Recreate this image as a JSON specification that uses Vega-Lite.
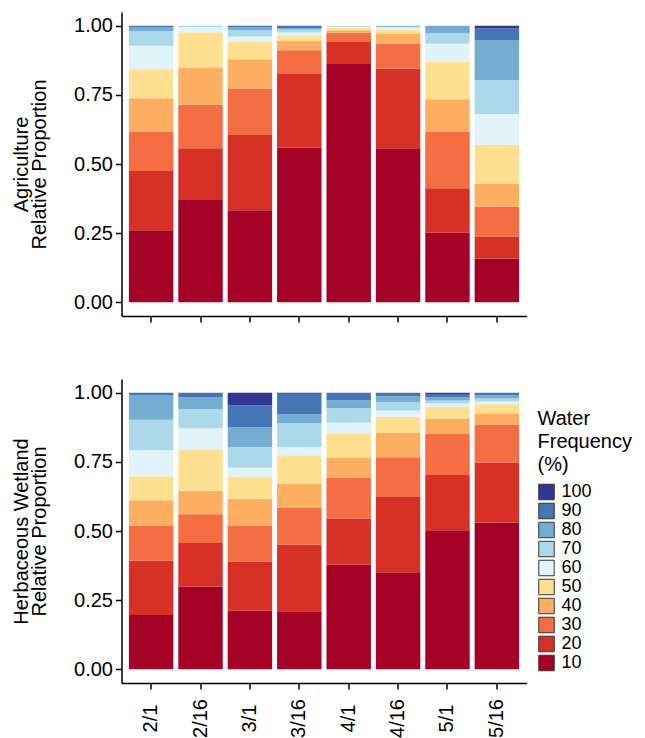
{
  "$schema": "https://vega.github.io/schema/vega-lite/v6.json",
  "autosize": {"type": "pad"},
  "padding": {"top": 12, "left": 11.5, "right": 0, "bottom": 0},
  "spacing": 56,
  "config": {
    "view": {"stroke": null},
    "font": "Liberation Sans",
    "axis": {
      "grid": false, "domainColor": "black", "domainWidth": 1.5,
      "tickColor": "black", "tickWidth": 1.5, "tickSize": 6,
      "labelColor": "black", "labelFontSize": 20, "labelFont": "Liberation Sans",
      "titleColor": "black", "titleFontSize": 20, "titleFontWeight": "normal", "titleFont": "Liberation Sans"
    },
    "legend": {
      "titleFontSize": 20, "titleFontWeight": "normal", "titleColor": "black", "titleLineHeight": 23, "titleFont": "Liberation Sans",
      "labelFontSize": 18, "labelColor": "black", "labelFont": "Liberation Sans",
      "symbolType": "square", "symbolSize": 240, "symbolStrokeColor": "#333333", "symbolStrokeWidth": 1,
      "labelOffset": 6, "titlePadding": 8
    }
  },
  "datasets": {
    "agriculture": [
      {"date": "2/1", "freq": 10, "value": 0.26}, {"date": "2/1", "freq": 20, "value": 0.215}, {"date": "2/1", "freq": 30, "value": 0.142}, {"date": "2/1", "freq": 40, "value": 0.121}, {"date": "2/1", "freq": 50, "value": 0.105}, {"date": "2/1", "freq": 60, "value": 0.085}, {"date": "2/1", "freq": 70, "value": 0.053}, {"date": "2/1", "freq": 80, "value": 0.015}, {"date": "2/1", "freq": 90, "value": 0.004},
      {"date": "2/16", "freq": 10, "value": 0.37}, {"date": "2/16", "freq": 20, "value": 0.187}, {"date": "2/16", "freq": 30, "value": 0.157}, {"date": "2/16", "freq": 40, "value": 0.135}, {"date": "2/16", "freq": 50, "value": 0.128}, {"date": "2/16", "freq": 60, "value": 0.019}, {"date": "2/16", "freq": 70, "value": 0.004},
      {"date": "3/1", "freq": 10, "value": 0.333}, {"date": "3/1", "freq": 20, "value": 0.272}, {"date": "3/1", "freq": 30, "value": 0.168}, {"date": "3/1", "freq": 40, "value": 0.106}, {"date": "3/1", "freq": 50, "value": 0.062}, {"date": "3/1", "freq": 60, "value": 0.02}, {"date": "3/1", "freq": 70, "value": 0.023}, {"date": "3/1", "freq": 80, "value": 0.011}, {"date": "3/1", "freq": 90, "value": 0.005},
      {"date": "3/16", "freq": 10, "value": 0.559}, {"date": "3/16", "freq": 20, "value": 0.269}, {"date": "3/16", "freq": 30, "value": 0.084}, {"date": "3/16", "freq": 40, "value": 0.034}, {"date": "3/16", "freq": 50, "value": 0.02}, {"date": "3/16", "freq": 60, "value": 0.01}, {"date": "3/16", "freq": 70, "value": 0.011}, {"date": "3/16", "freq": 80, "value": 0.005}, {"date": "3/16", "freq": 90, "value": 0.008},
      {"date": "4/1", "freq": 10, "value": 0.862}, {"date": "4/1", "freq": 20, "value": 0.079}, {"date": "4/1", "freq": 30, "value": 0.034}, {"date": "4/1", "freq": 40, "value": 0.009}, {"date": "4/1", "freq": 50, "value": 0.009}, {"date": "4/1", "freq": 60, "value": 0.004}, {"date": "4/1", "freq": 70, "value": 0.003},
      {"date": "4/16", "freq": 10, "value": 0.557}, {"date": "4/16", "freq": 20, "value": 0.288}, {"date": "4/16", "freq": 30, "value": 0.09}, {"date": "4/16", "freq": 40, "value": 0.037}, {"date": "4/16", "freq": 50, "value": 0.015}, {"date": "4/16", "freq": 60, "value": 0.007}, {"date": "4/16", "freq": 70, "value": 0.003}, {"date": "4/16", "freq": 80, "value": 0.003},
      {"date": "5/1", "freq": 10, "value": 0.251}, {"date": "5/1", "freq": 20, "value": 0.161}, {"date": "5/1", "freq": 30, "value": 0.205}, {"date": "5/1", "freq": 40, "value": 0.117}, {"date": "5/1", "freq": 50, "value": 0.137}, {"date": "5/1", "freq": 60, "value": 0.064}, {"date": "5/1", "freq": 70, "value": 0.038}, {"date": "5/1", "freq": 80, "value": 0.027},
      {"date": "5/16", "freq": 10, "value": 0.158}, {"date": "5/16", "freq": 20, "value": 0.079}, {"date": "5/16", "freq": 30, "value": 0.108}, {"date": "5/16", "freq": 40, "value": 0.083}, {"date": "5/16", "freq": 50, "value": 0.141}, {"date": "5/16", "freq": 60, "value": 0.112}, {"date": "5/16", "freq": 70, "value": 0.123}, {"date": "5/16", "freq": 80, "value": 0.143}, {"date": "5/16", "freq": 90, "value": 0.043}, {"date": "5/16", "freq": 100, "value": 0.01}
    ],
    "wetland": [
      {"date": "2/1", "freq": 10, "value": 0.196}, {"date": "2/1", "freq": 20, "value": 0.196}, {"date": "2/1", "freq": 30, "value": 0.128}, {"date": "2/1", "freq": 40, "value": 0.091}, {"date": "2/1", "freq": 50, "value": 0.087}, {"date": "2/1", "freq": 60, "value": 0.094}, {"date": "2/1", "freq": 70, "value": 0.111}, {"date": "2/1", "freq": 80, "value": 0.088}, {"date": "2/1", "freq": 90, "value": 0.009},
      {"date": "2/16", "freq": 10, "value": 0.299}, {"date": "2/16", "freq": 20, "value": 0.158}, {"date": "2/16", "freq": 30, "value": 0.104}, {"date": "2/16", "freq": 40, "value": 0.085}, {"date": "2/16", "freq": 50, "value": 0.15}, {"date": "2/16", "freq": 60, "value": 0.076}, {"date": "2/16", "freq": 70, "value": 0.069}, {"date": "2/16", "freq": 80, "value": 0.043}, {"date": "2/16", "freq": 90, "value": 0.016},
      {"date": "3/1", "freq": 10, "value": 0.211}, {"date": "3/1", "freq": 20, "value": 0.178}, {"date": "3/1", "freq": 30, "value": 0.131}, {"date": "3/1", "freq": 40, "value": 0.097}, {"date": "3/1", "freq": 50, "value": 0.079}, {"date": "3/1", "freq": 60, "value": 0.033}, {"date": "3/1", "freq": 70, "value": 0.075}, {"date": "3/1", "freq": 80, "value": 0.072}, {"date": "3/1", "freq": 90, "value": 0.078}, {"date": "3/1", "freq": 100, "value": 0.046},
      {"date": "3/16", "freq": 10, "value": 0.21}, {"date": "3/16", "freq": 20, "value": 0.24}, {"date": "3/16", "freq": 30, "value": 0.135}, {"date": "3/16", "freq": 40, "value": 0.085}, {"date": "3/16", "freq": 50, "value": 0.104}, {"date": "3/16", "freq": 60, "value": 0.03}, {"date": "3/16", "freq": 70, "value": 0.086}, {"date": "3/16", "freq": 80, "value": 0.032}, {"date": "3/16", "freq": 90, "value": 0.075}, {"date": "3/16", "freq": 100, "value": 0.003},
      {"date": "4/1", "freq": 10, "value": 0.379}, {"date": "4/1", "freq": 20, "value": 0.166}, {"date": "4/1", "freq": 30, "value": 0.147}, {"date": "4/1", "freq": 40, "value": 0.072}, {"date": "4/1", "freq": 50, "value": 0.087}, {"date": "4/1", "freq": 60, "value": 0.042}, {"date": "4/1", "freq": 70, "value": 0.051}, {"date": "4/1", "freq": 80, "value": 0.029}, {"date": "4/1", "freq": 90, "value": 0.027},
      {"date": "4/16", "freq": 10, "value": 0.351}, {"date": "4/16", "freq": 20, "value": 0.272}, {"date": "4/16", "freq": 30, "value": 0.144}, {"date": "4/16", "freq": 40, "value": 0.088}, {"date": "4/16", "freq": 50, "value": 0.058}, {"date": "4/16", "freq": 60, "value": 0.023}, {"date": "4/16", "freq": 70, "value": 0.031}, {"date": "4/16", "freq": 80, "value": 0.021}, {"date": "4/16", "freq": 90, "value": 0.012},
      {"date": "5/1", "freq": 10, "value": 0.503}, {"date": "5/1", "freq": 20, "value": 0.2}, {"date": "5/1", "freq": 30, "value": 0.149}, {"date": "5/1", "freq": 40, "value": 0.053}, {"date": "5/1", "freq": 50, "value": 0.045}, {"date": "5/1", "freq": 60, "value": 0.011}, {"date": "5/1", "freq": 70, "value": 0.011}, {"date": "5/1", "freq": 80, "value": 0.012}, {"date": "5/1", "freq": 90, "value": 0.012}, {"date": "5/1", "freq": 100, "value": 0.004},
      {"date": "5/16", "freq": 10, "value": 0.531}, {"date": "5/16", "freq": 20, "value": 0.217}, {"date": "5/16", "freq": 30, "value": 0.137}, {"date": "5/16", "freq": 40, "value": 0.041}, {"date": "5/16", "freq": 50, "value": 0.033}, {"date": "5/16", "freq": 60, "value": 0.01}, {"date": "5/16", "freq": 70, "value": 0.01}, {"date": "5/16", "freq": 80, "value": 0.012}, {"date": "5/16", "freq": 90, "value": 0.009}
    ]
  },
  "resolve": {"scale": {"color": "independent"}, "legend": {"color": "independent"}},
  "vconcat": [
    {
      "data": {"name": "agriculture"},
      "width": 405,
      "height": 304,
      "mark": {"type": "bar"},
      "encoding": {
        "x": {"field": "date", "type": "ordinal", "sort": ["2/1", "2/16", "3/1", "3/16", "4/1", "4/16", "5/1", "5/16"],
              "scale": {"paddingInner": 0.1, "paddingOuter": 0.15},
              "axis": {"labels": false, "title": null}},
        "y": {"field": "value", "type": "quantitative", "stack": "zero",
              "scale": {"domain": [-0.05, 1.05], "nice": false, "zero": false},
              "axis": {"values": [0, 0.25, 0.5, 0.75, 1], "format": ".2f", "labelPadding": 3,
                       "title": ["Agriculture", "Relative Proportion"], "titleLineHeight": 18, "titlePadding": 24}},
        "color": {"field": "freq", "type": "ordinal",
                  "scale": {"domain": [100, 90, 80, 70, 60, 50, 40, 30, 20, 10],
                            "range": ["#313695", "#4575b4", "#74add1", "#abd9e9", "#e0f3f8", "#fee090", "#fdae61", "#f46d43", "#d73027", "#a50026"]},
                  "legend": null},
        "order": {"field": "freq", "type": "quantitative", "sort": "ascending"}
      }
    },
    {
      "data": {"name": "wetland"},
      "width": 405,
      "height": 304,
      "mark": {"type": "bar"},
      "encoding": {
        "x": {"field": "date", "type": "ordinal", "sort": ["2/1", "2/16", "3/1", "3/16", "4/1", "4/16", "5/1", "5/16"],
              "scale": {"paddingInner": 0.1, "paddingOuter": 0.15},
              "axis": {"title": null, "labelAngle": -90, "labelAlign": "center", "labelBaseline": "middle", "labelPadding": 29}},
        "y": {"field": "value", "type": "quantitative", "stack": "zero",
              "scale": {"domain": [-0.05, 1.05], "nice": false, "zero": false},
              "axis": {"values": [0, 0.25, 0.5, 0.75, 1], "format": ".2f", "labelPadding": 3,
                       "title": ["Herbaceous Wetland", "Relative Proportion"], "titleLineHeight": 18, "titlePadding": 24}},
        "color": {"field": "freq", "type": "ordinal",
                  "scale": {"domain": [100, 90, 80, 70, 60, 50, 40, 30, 20, 10],
                            "range": ["#313695", "#4575b4", "#74add1", "#abd9e9", "#e0f3f8", "#fee090", "#fdae61", "#f46d43", "#d73027", "#a50026"]},
                  "legend": {"orient": "none", "legendX": 416, "legendY": 30, "rowPadding": -7, "title": ["Water", "Frequency", "(%)"]}},
        "order": {"field": "freq", "type": "quantitative", "sort": "ascending"}
      }
    }
  ]
}
